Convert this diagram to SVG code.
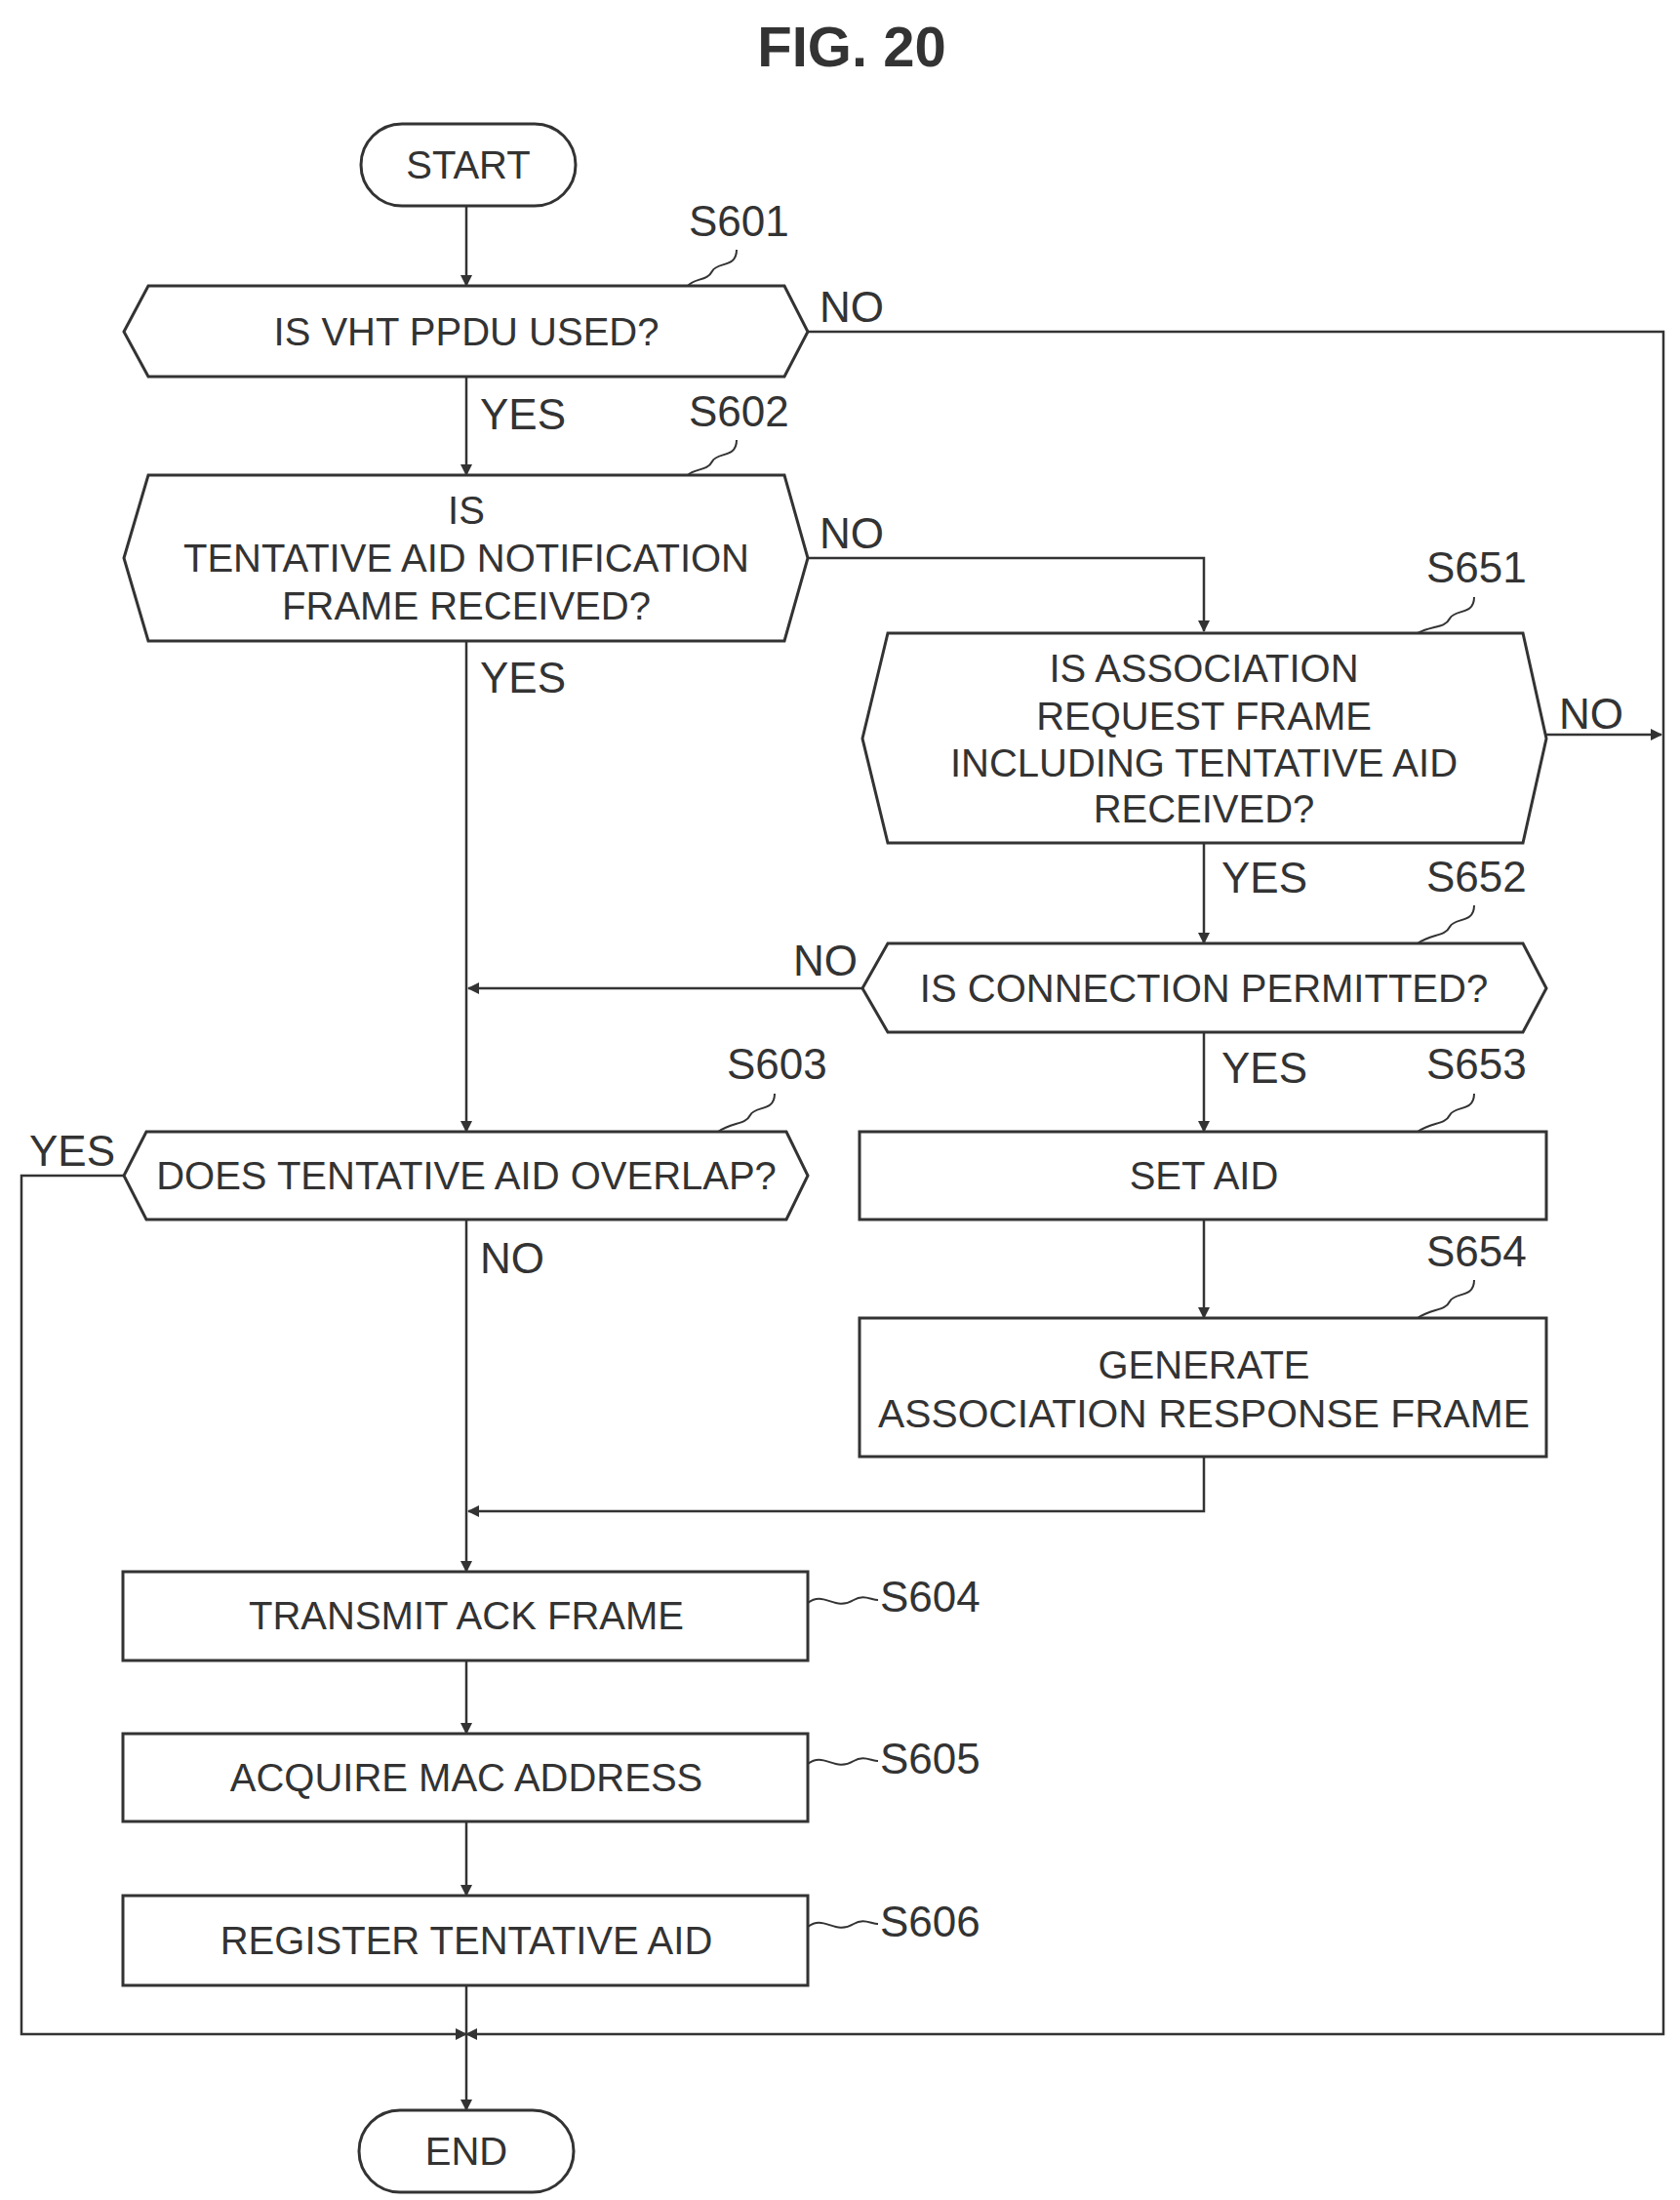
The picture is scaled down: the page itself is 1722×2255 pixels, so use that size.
<svg xmlns="http://www.w3.org/2000/svg" width="1722" height="2255" viewBox="0 0 1722 2255">
<style>
.s{fill:#fff;stroke:#333;stroke-width:3}
.t{font-family:"Liberation Sans",Arial,sans-serif;font-size:40px;fill:#333;text-anchor:middle}
.l{font-family:"Liberation Sans",Arial,sans-serif;font-size:44px;fill:#333}
.c{fill:none;stroke:#333;stroke-width:2.5}
.q{fill:none;stroke:#333;stroke-width:2}
</style>
<defs><marker id="a" markerWidth="12" markerHeight="12" refX="11" refY="6" orient="auto" markerUnits="userSpaceOnUse"><path d="M0,0L12,6L0,12z" fill="#333"/></marker></defs>
<rect width="1722" height="2255" fill="#fff"/>
<text x="873" y="68" style="font-family:'Liberation Sans',Arial,sans-serif;font-size:58px;font-weight:bold;fill:#333;text-anchor:middle">FIG. 20</text>
<g id="connectors">
<path class="c" d="M478,211V293" marker-end="url(#a)"/>
<path class="c" d="M478,386V487" marker-end="url(#a)"/>
<path class="c" d="M828,340H1705V2085H478" marker-end="url(#a)"/>
<path class="c" d="M828,572H1234V647" marker-end="url(#a)"/>
<path class="c" d="M478,657V1160" marker-end="url(#a)"/>
<path class="c" d="M1585,753H1703" marker-end="url(#a)"/>
<path class="c" d="M1234,864V967" marker-end="url(#a)"/>
<path class="c" d="M884,1013H480" marker-end="url(#a)"/>
<path class="c" d="M1234,1058V1160" marker-end="url(#a)"/>
<path class="c" d="M1234,1250V1351" marker-end="url(#a)"/>
<path class="c" d="M1234,1493V1549H480" marker-end="url(#a)"/>
<path class="c" d="M478,1250V1611" marker-end="url(#a)"/>
<path class="c" d="M127,1205H22V2085H478" marker-end="url(#a)"/>
<path class="c" d="M478,1702V1777" marker-end="url(#a)"/>
<path class="c" d="M478,1867V1943" marker-end="url(#a)"/>
<path class="c" d="M478,2035V2163" marker-end="url(#a)"/>
<text class="l" x="840" y="330">NO</text>
<text class="l" x="492" y="440">YES</text>
<text class="l" x="840" y="562">NO</text>
<text class="l" x="492" y="710">YES</text>
<text class="l" x="1598" y="747">NO</text>
<text class="l" x="1252" y="915">YES</text>
<text class="l" x="813" y="1000">NO</text>
<text class="l" x="1252" y="1110">YES</text>
<text class="l" x="30" y="1195">YES</text>
<text class="l" x="492" y="1305">NO</text>
</g>
<g id="start"><rect class="s" x="370" y="127" width="220" height="84" rx="42"/><text class="t" x="480" y="183">START</text></g>
<g id="S601"><path class="s" d="M127,340L152,293H804L828,340L804,386H152Z"/><text class="t" x="478" y="354">IS VHT PPDU USED?</text>
<text class="l" x="706" y="242">S601</text><path class="q" d="M755,256C755,275 735,268 730,278C725,288 712,285 705,293"/></g>
<g id="S602"><path class="s" d="M127,572L152,487H804L828,572L804,657H152Z"/><text class="t" x="478" y="537">IS</text><text class="t" x="478" y="586">TENTATIVE AID NOTIFICATION</text><text class="t" x="478" y="635">FRAME RECEIVED?</text>
<text class="l" x="706" y="437">S602</text><path class="q" d="M755,451C755,470 735,463 730,473C725,483 712,480 705,487"/></g>
<g id="S651"><path class="s" d="M884,757L910,649H1561L1585,757L1561,864H910Z"/><text class="t" x="1234" y="699">IS ASSOCIATION</text><text class="t" x="1234" y="748">REQUEST FRAME</text><text class="t" x="1234" y="796">INCLUDING TENTATIVE AID</text><text class="t" x="1234" y="843">RECEIVED?</text>
<text class="l" x="1462" y="597">S651</text><path class="q" d="M1511,612C1511,631 1491,624 1486,634C1481,644 1468,641 1453,649"/></g>
<g id="S652"><path class="s" d="M884,1013L910,967H1561L1585,1013L1561,1058H910Z"/><text class="t" x="1234" y="1027">IS CONNECTION PERMITTED?</text>
<text class="l" x="1462" y="914">S652</text><path class="q" d="M1511,928C1511,947 1491,940 1486,950C1481,960 1468,957 1453,967"/></g>
<g id="S653"><rect class="s" x="881" y="1160" width="704" height="90"/><text class="t" x="1234" y="1219">SET AID</text>
<text class="l" x="1462" y="1106">S653</text><path class="q" d="M1511,1121C1511,1140 1491,1133 1486,1143C1481,1153 1468,1150 1453,1160"/></g>
<g id="S654"><rect class="s" x="881" y="1351" width="704" height="142"/><text class="t" x="1234" y="1413">GENERATE</text><text class="t" x="1234" y="1463" textLength="668" lengthAdjust="spacingAndGlyphs">ASSOCIATION RESPONSE FRAME</text>
<text class="l" x="1462" y="1298">S654</text><path class="q" d="M1511,1312C1511,1331 1491,1324 1486,1334C1481,1344 1468,1341 1453,1351"/></g>
<g id="S603"><path class="s" d="M127,1205L150,1160H806L828,1205L806,1250H150Z"/><text class="t" x="478" y="1219">DOES TENTATIVE AID OVERLAP?</text>
<text class="l" x="745" y="1106">S603</text><path class="q" d="M794,1121C794,1140 774,1133 769,1143C764,1153 751,1150 736,1160"/></g>
<g id="S604"><rect class="s" x="126" y="1611" width="702" height="91"/><text class="t" x="478" y="1670">TRANSMIT ACK FRAME</text>
<path class="q" d="M828,1643C845,1630 855,1652 875,1640C885,1634 893,1640 900,1640"/><text class="l" x="902" y="1652">S604</text></g>
<g id="S605"><rect class="s" x="126" y="1777" width="702" height="90"/><text class="t" x="478" y="1836">ACQUIRE MAC ADDRESS</text>
<path class="q" d="M828,1808C845,1795 855,1817 875,1805C885,1799 893,1805 900,1805"/><text class="l" x="902" y="1818">S605</text></g>
<g id="S606"><rect class="s" x="126" y="1943" width="702" height="92"/><text class="t" x="478" y="2003">REGISTER TENTATIVE AID</text>
<path class="q" d="M828,1975C845,1962 855,1984 875,1972C885,1966 893,1972 900,1972"/><text class="l" x="902" y="1985">S606</text></g>
<g id="end"><rect class="s" x="368" y="2163" width="220" height="84" rx="42"/><text class="t" x="478" y="2219">END</text></g>
</svg>
